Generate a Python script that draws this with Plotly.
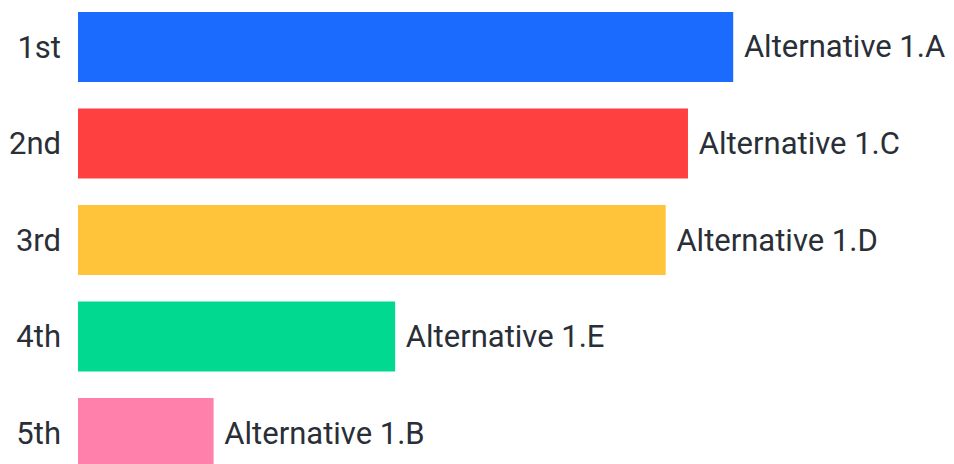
import plotly.graph_objects as go

# Data
ranks = ["1st", "2nd", "3rd", "4th", "5th"]
alternatives = ["Alternative 1.A", "Alternative 1.C", "Alternative 1.D",
                "Alternative 1.E", "Alternative 1.B"]
scores = [100, 93.1, 89.7, 48.4, 20.7]
colors = ["#1b6bff", "#ff4040", "#ffc43a", "#00d98f", "#ff80ab"]


def create_bar_plot():
    fig = go.Figure(
        go.Bar(x=scores,
               y=ranks,
               orientation="h",
               marker=dict(color=colors, line=dict(width=0)),
               text=["\u00a0" + a for a in alternatives],
               textposition="outside",
               cliponaxis=False,
               textfont=dict(family="Roboto", size=31, color="#2a2f37"),
               hoverinfo="skip"))
    # page body has an 8px margin, so the figure is drawn 8px smaller
    fig.update_layout(
        width=946,
        height=456,
        margin=dict(l=70, r=0, t=0, b=0),
        paper_bgcolor="white",
        plot_bgcolor="white",
        bargap=0.275,
        showlegend=False,
        font=dict(family="Roboto", size=31, color="#2a2f37"),
        xaxis=dict(range=[0, 133.7], visible=False),
        yaxis=dict(range=[4.321, -0.404],
                   showgrid=False,
                   zeroline=False,
                   showline=False,
                   ticks="",
                   ticklabelstandoff=16))
    return fig


fig = create_bar_plot()
fig.write_html("out.html")
